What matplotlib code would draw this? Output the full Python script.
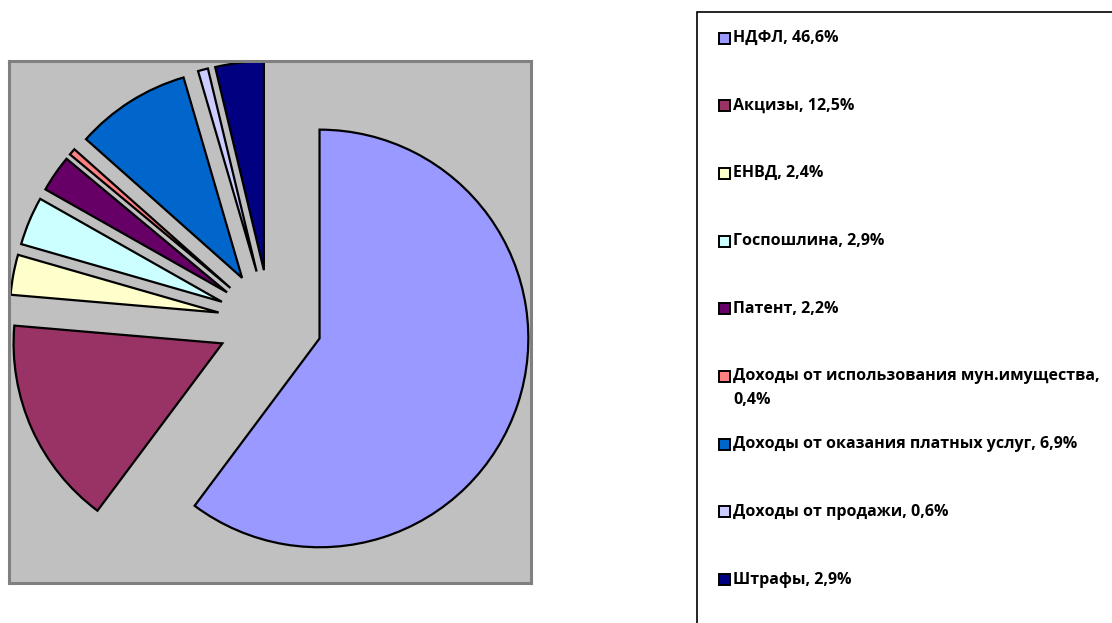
import matplotlib
matplotlib.use("Agg")
import matplotlib.pyplot as plt
from matplotlib.patches import Rectangle

# data
names = ["НДФЛ", "Акцизы", "ЕНВД", "Госпошлина", "Патент",
         "Доходы от использования мун.имущества",
         "Доходы от оказания платных услуг",
         "Доходы от продажи", "Штрафы"]
shares = [46.6, 12.5, 2.4, 2.9, 2.2, 0.4, 6.9, 0.6, 2.9]
colors = ["#9999FF", "#993366", "#FFFFCC", "#CCFFFF", "#660066",
          "#FF8080", "#0066CC", "#CCCCFF", "#000080"]

W, H = 1112, 623
fig = plt.figure(figsize=(W / 100, H / 100), dpi=100)

# plot area (grey box)
ax = fig.add_axes([9 / W, 40 / H, 522 / W, 522 / H])
ax.pie(shares, colors=colors, startangle=90, counterclock=False,
       explode=[0.25] * len(shares), radius=1, frame=True,
       wedgeprops=dict(edgecolor="black", linewidth=1.6))
ax.set_facecolor("#C0C0C0")
for s in ax.spines.values():
    s.set_visible(True)
    s.set_color("#808080")
    s.set_linewidth(2.2)
ax.set_xticks([])
ax.set_yticks([])
ax.set_xlim(-1.25, 1.25)
ax.set_ylim(-1.25, 1.25)
ax.set_aspect("auto")

# legend box
fig.patches.append(Rectangle((697 / W, -0.05), 1, (H - 12) / H + 0.05,
                             transform=fig.transFigure, fill=False,
                             edgecolor="black", linewidth=1.2))

y0, step = 38, 67.7
for i, (n, v, c) in enumerate(zip(names, shares, colors)):
    label = n + ", " + str(v).replace(".", ",") + "%"
    if len(label) > 40:
        label = label.replace(", ", ",\n", 1)
    yc = y0 + step * i
    fig.patches.append(Rectangle((719 / W, (H - yc - 5.5) / H), 11 / W, 11 / H,
                                 transform=fig.transFigure, facecolor=c,
                                 edgecolor="black", linewidth=1.4))
    fig.text(733 / W, (H - yc + 8) / H, label, fontsize=11.5, fontweight="bold",
             family="Open Sans", va="top", ha="left", linespacing=1.6)

fig.savefig("out.png", dpi=100)
